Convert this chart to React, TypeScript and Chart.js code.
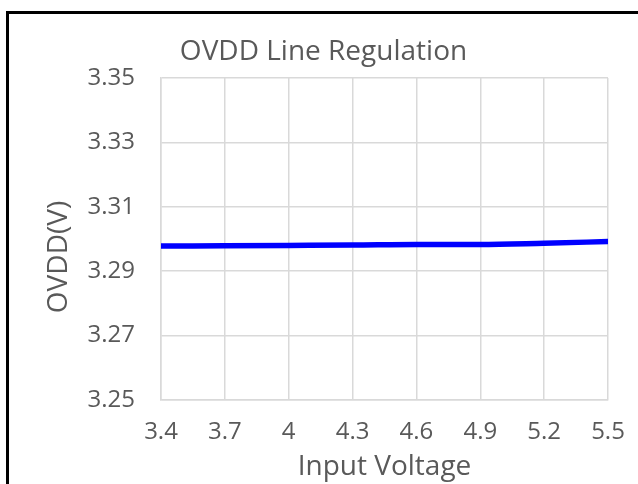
import React, { useEffect, useRef } from "react";
import { Chart, registerables } from "chart.js";

Chart.register(...registerables);

const chartTitle = "OVDD Line Regulation";
const xAxisTitle = "Input Voltage";
const yAxisTitle = "OVDD(V)";
const inputVoltage = [3.4, 3.7, 4.0, 4.3, 4.6, 4.9, 5.2, 5.5];
const ovdd = [3.2978, 3.2979, 3.298, 3.2981, 3.2983, 3.2983, 3.2987, 3.2992];
const xTicks = [3.4, 3.7, 4.0, 4.3, 4.6, 4.9, 5.2, 5.5];
const yTicks = [3.25, 3.27, 3.29, 3.31, 3.33, 3.35];

const TEXT = "#595959";
const GRID = "#d9d9d9";
const FONT = "'Open Sans', sans-serif";

const yTitlePlugin = {
  id: "yTitlePlugin",
  afterDraw(chart: any) {
    const { ctx, chartArea } = chart;
    ctx.save();
    ctx.font = `28px ${FONT}`;
    ctx.fillStyle = TEXT;
    ctx.textAlign = "center";
    ctx.textBaseline = "middle";
    ctx.translate(chartArea.left - 101.5, (chartArea.top + chartArea.bottom) / 2 + 18);
    ctx.rotate(-Math.PI / 2);
    ctx.fillText(yAxisTitle, 0, 0);
    ctx.restore();
  },
};

export default function App() {
  const ref = useRef<HTMLCanvasElement | null>(null);
  useEffect(() => {
    if (!ref.current) return;
    const chart = new Chart(ref.current, {
      type: "line",
      data: {
        datasets: [
          {
            data: inputVoltage.map((x, i) => ({ x, y: ovdd[i] })),
            borderColor: "#0000ff",
            backgroundColor: "#0000ff",
            borderWidth: 5.5,
            borderCapStyle: "round",
            pointRadius: 0,
            cubicInterpolationMode: "monotone",
            fill: false,
          },
        ],
      },
      options: {
        animation: false,
        responsive: true,
        maintainAspectRatio: false,
        layout: { padding: { left: 39, right: 30, top: 0, bottom: 0 } },
        plugins: {
          legend: { display: false },
          tooltip: { enabled: false },
          title: {
            display: true,
            text: chartTitle,
            color: TEXT,
            font: { family: FONT, size: 28, weight: "normal" },
            padding: { top: 35.6, bottom: 8.8 },
          },
        },
        scales: {
          x: {
            type: "linear",
            min: 3.4,
            max: 5.5,
            afterBuildTicks: (scale: any) => {
              scale.ticks = xTicks.map((v) => ({ value: v }));
            },
            afterFit: (scale: any) => {
              scale.height = 84;
              scale.paddingRight = 0;
              scale.paddingLeft = 0;
            },
            grid: { color: GRID, lineWidth: 1.5, drawTicks: false },
            border: { color: GRID, width: 1.5 },
            ticks: {
              autoSkip: false,
              maxRotation: 0,
              padding: 18,
              color: TEXT,
              font: { family: FONT, size: 24 },
              callback: (v: any) => String(Math.round(Number(v) * 10) / 10),
            },
            title: {
              display: true,
              text: xAxisTitle,
              color: TEXT,
              font: { family: FONT, size: 28 },
              padding: { top: 0, bottom: 0.2 },
            },
          },
          y: {
            type: "linear",
            min: 3.25,
            max: 3.35,
            afterBuildTicks: (scale: any) => {
              scale.ticks = yTicks.map((v) => ({ value: v }));
            },
            afterFit: (scale: any) => {
              scale.width = 122;
            },
            grid: { color: GRID, lineWidth: 1.5, drawTicks: false },
            border: { color: GRID, width: 1.5 },
            ticks: {
              padding: 26,
              color: TEXT,
              font: { family: FONT, size: 24 },
              callback: (v: any) => Number(v).toFixed(2),
            },
          },
        },
      },
      plugins: [yTitlePlugin],
    } as any);
    return () => chart.destroy();
  }, []);

  return (
    <div style={{ position: "fixed", left: 0, top: 0, width: 638, height: 484, overflow: "hidden", background: "#fff" }}>
      <div
        style={{
          position: "absolute",
          left: 6,
          top: 11,
          width: 640,
          height: 480,
          border: "3px solid #000",
          boxSizing: "border-box",
        }}
      />
      <div style={{ position: "absolute", left: 0, top: 0, width: 638, height: 484 }}>
        <canvas ref={ref} />
      </div>
    </div>
  );
}
